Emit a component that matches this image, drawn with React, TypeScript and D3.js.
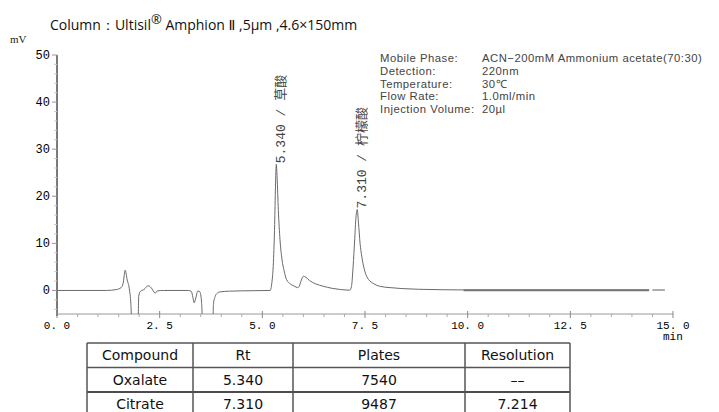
import React from "react";
import * as d3 from "d3";

const W = 719;
const H = 412;

// chromatogram trace (time in min, signal in mV)
const traceTime = [
  0, 1.2, 1.45, 1.56, 1.61, 1.66, 1.71, 1.76, 1.8, 1.83, 1.97, 1.99, 2.03, 2.12, 2.22, 2.3, 2.36, 2.39, 2.44, 2.6,
  3.2, 3.27, 3.31, 3.34, 3.38, 3.43, 3.48, 3.52, 3.56, 3.79, 3.81, 3.85, 3.9, 3.97, 4.2, 4.8, 5.19,
  5.23, 5.27, 5.3, 5.32, 5.34, 5.36, 5.39, 5.43, 5.48, 5.53, 5.59, 5.68, 5.78, 5.86,
  5.9, 5.95, 6.0, 6.06, 6.15, 6.3, 6.48, 6.7, 6.9, 7.13,
  7.17, 7.21, 7.25, 7.28, 7.31, 7.34, 7.38, 7.42, 7.48, 7.54, 7.62, 7.7, 7.85, 8.11, 8.4, 8.8, 9.4, 10.0, 14.8,
];
const traceMV = [
  0, 0, 0.2, 0.6, 1.5, 4.3, 2.2, 0.4, -3, -9, -9, -1.2, -0.2, 0.2, 1.0, 0.5, -0.3, -0.6, -0.1, 0,
  0, -0.2, -1.5, -2.6, -1.6, -0.1, -0.3, -2.5, -9, -9, -2.8, -1.3, -0.6, -0.3, -0.15, -0.05, 0,
  1.5, 6, 14, 22, 26.8, 24, 17, 10.8, 6.5, 4.2, 2.3, 1.4, 0.9, 0.6,
  0.9, 2.2, 3.0, 2.8, 2.1, 1.4, 0.9, 0.45, 0.2, 0.07,
  0.8, 5, 11, 15.5, 17.2, 14.5, 10, 7.3, 4.6, 3.0, 2.0, 1.5, 0.9, 0.6, 0.4, 0.25, 0.15, 0.1, 0.1,
];

// overdrawn part of the flat baseline at the end of the run
const thickBaseline = [9.9, 14.42];
const lightBaseline = [14.5, 14.8];

const peakTimes = [5.34, 7.31];
const peakMV = [26.8, 17.2];
const peakLabels = ["5.340 / 草酸", "7.310 / 柠檬酸"];

const yTicks = [0, 10, 20, 30, 40, 50];
const xTicks = [0, 2.5, 5, 7.5, 10, 12.5, 15];
const xTickLabels = ["0. 0", "2. 5", "5. 0", "7. 5", "10. 0", "12. 5", "15. 0"];

const infoLabels = ["Mobile Phase:", "Detection:", "Temperature:", "Flow Rate:", "Injection Volume:"];
const infoValues = ["ACN\u2212200mM Ammonium acetate(70:30)", "220nm", "30\u2103", "1.0ml/min", "20\u00b5l"];

const tableHeader = ["Compound", "Rt", "Plates", "Resolution"];
const compounds = ["Oxalate", "Citrate"];
const rtValues = ["5.340", "7.310"];
const plateValues = ["7540", "9487"];
const resolutionValues = ["\u2013\u2013", "7.214"];

export default function App() {
  const left = 57;
  const right = 673;
  const top = 55;
  const bottom = 314;

  const x = d3.scaleLinear().domain([0, 15]).range([left, right]);
  const y = d3.scaleLinear().domain([-5, 50]).range([bottom, top]);

  const pts: [number, number][] = traceTime.map((t, i) => [t, traceMV[i]]);
  const line = d3
    .line<[number, number]>()
    .x((d) => x(d[0]))
    .y((d) => y(d[1]))
    .curve(d3.curveMonotoneX);

  const yMinor = d3.range(-4, 51, 2).filter((v) => v % 10 !== 0);
  const xMinor = d3.range(0, 15.01, 0.5).filter((v) => Math.abs(v / 2.5 - Math.round(v / 2.5)) > 1e-6);

  const monoFont = "'Liberation Mono', 'DejaVu Sans Mono', 'Noto Sans CJK SC', monospace";

  // table geometry
  const colEdges = [87, 193, 293, 465, 570];
  const rowTop = 343;
  const rowH = 24.5;
  const rows = [tableHeader, ...compounds.map((c, i) => [c, rtValues[i], plateValues[i], resolutionValues[i]])];

  return (
    <svg width={W} height={H} style={{ position: "absolute", left: 0, top: 0, background: "#fff" }}>
      <defs>
        <clipPath id="plotClip">
          <rect x={left} y={top - 20} width={right - left + 10} height={bottom - top + 20} />
        </clipPath>
      </defs>

      {/* title */}
      <text x={50} y={30} fontFamily="'Open Sans', 'DejaVu Sans', sans-serif" fontSize={14} fill="#111">
        Column：Ultisil
        <tspan fontSize={13} dy={-6}>®</tspan>
        <tspan dy={6}> Amphion Ⅱ ,5μm ,4.6×150mm</tspan>
      </text>

      {/* mV unit */}
      <text x={10} y={43} fontFamily="'Liberation Serif', serif" fontSize={11} fill="#222">mV</text>

      {/* info block */}
      {infoLabels.map((l, i) => (
        <g key={l} fontFamily="'Liberation Sans', Arial, sans-serif" fontSize={11.3} letterSpacing={0.5} fill="#444">
          <text x={380} y={61.7 + i * 12.9}>{l}</text>
          <text x={482} y={61.7 + i * 12.9}>{infoValues[i]}</text>
        </g>
      ))}

      {/* y axis */}
      <line x1={left} x2={left} y1={top} y2={bottom + 2} stroke="#222" strokeWidth={1.2} />
      {yTicks.map((v) => (
        <g key={v}>
          <line x1={left - 5} x2={left} y1={y(v)} y2={y(v)} stroke="#999" />
          <text x={left - 7} y={y(v) + 4} textAnchor="end" fontFamily={monoFont} fontSize={12} fill="#000">
            {v}
          </text>
        </g>
      ))}
      {yMinor.map((v) => (
        <line key={"ym" + v} x1={left - 3} x2={left} y1={y(v)} y2={y(v)} stroke="#ccc" />
      ))}

      {/* x axis */}
      <line x1={left} x2={right} y1={bottom} y2={bottom} stroke="#999" strokeWidth={1} />
      {xTicks.map((v, i) => (
        <g key={v}>
          <line x1={x(v)} x2={x(v)} y1={bottom - 3} y2={bottom + 4} stroke="#888" />
          <text x={x(v)} y={bottom + 15} textAnchor="middle" fontFamily={monoFont} fontSize={11} fill="#000">
            {xTickLabels[i]}
          </text>
        </g>
      ))}
      {xMinor.map((v) => (
        <line key={"xm" + v} x1={x(v)} x2={x(v)} y1={bottom} y2={bottom + 3} stroke="#aaa" />
      ))}
      <text x={x(15) - 10} y={bottom + 26} fontFamily={monoFont} fontSize={11} fill="#000">min</text>

      {/* trace */}
      <g clipPath="url(#plotClip)">
        <path d={line(pts) || ""} fill="none" stroke="#6a6a6a" strokeWidth={1} />
        <line x1={x(thickBaseline[0])} x2={x(thickBaseline[1])} y1={y(0.05)} y2={y(0.05)} stroke="#777" strokeWidth={2} />
        <line x1={x(thickBaseline[1])} x2={x(lightBaseline[0])} y1={y(0.05)} y2={y(0.05)} stroke="#fff" strokeWidth={3} />
        <line x1={x(lightBaseline[0])} x2={x(lightBaseline[1])} y1={y(0)} y2={y(0)} stroke="#aaa" strokeWidth={1} />
      </g>

      {/* peak labels */}
      {peakLabels.map((l, i) => (
        <text
          key={l}
          transform={`translate(${x(peakTimes[i]) + 9},${y(peakMV[i]) - 1}) rotate(-90)`}
          fontFamily={monoFont}
          fontSize={13}
          fill="#444"
        >
          {l}
        </text>
      ))}

      {/* table */}
      <g fontFamily="'DejaVu Sans', Verdana, sans-serif" fontSize={14} fill="#111">
        {rows.map((r, ri) =>
          r.map((c, ci) => (
            <text
              key={ri + "-" + ci}
              x={(colEdges[ci] + colEdges[ci + 1]) / 2}
              y={rowTop + ri * rowH + rowH / 2 + 5}
              textAnchor="middle"
            >
              {c}
            </text>
          ))
        )}
      </g>
      <g stroke="#555" strokeWidth={1.5}>
        {d3.range(rows.length + 1).map((ri) => (
          <line
            key={"h" + ri}
            x1={colEdges[0]}
            x2={colEdges[colEdges.length - 1]}
            y1={rowTop + ri * rowH}
            y2={rowTop + ri * rowH}
            stroke={ri === 2 ? "#111" : "#555"}
          />
        ))}
        {colEdges.map((cx) => (
          <line key={"v" + cx} x1={cx} x2={cx} y1={rowTop} y2={rowTop + rows.length * rowH} />
        ))}
      </g>
    </svg>
  );
}
